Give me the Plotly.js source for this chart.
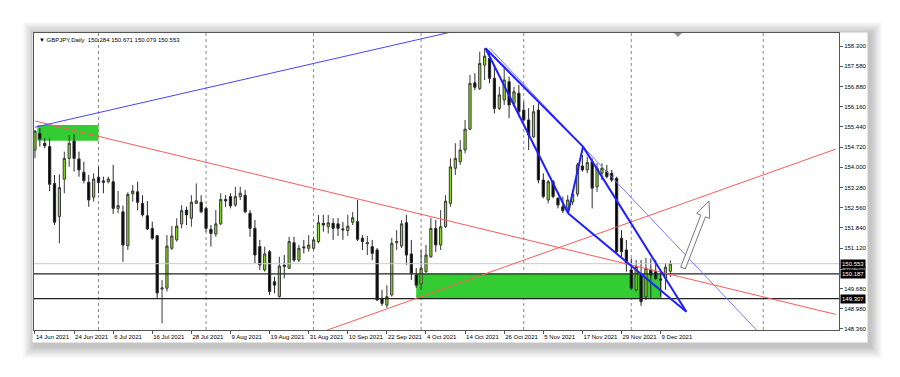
<!DOCTYPE html>
<html>
<head>
<meta charset="utf-8">
<script src="https://cdn.plot.ly/plotly-3.0.1.min.js"></script>
<style>html,body{margin:0;padding:0;background:#fff;}#chart{width:900px;height:377px;}</style>
</head>
<body>
<div id="chart"></div>
<script>
// ---- DATA (GBPJPY daily bars, index 0 = 14 Jun 2021) ----
const opens = [154.60,155.19,154.84,154.72,153.41,152.23,153.56,154.30,154.92,154.28,
153.81,153.45,152.92,153.63,153.50,153.47,153.47,152.52,152.40,151.19,
153.04,153.11,152.70,152.26,151.81,151.55,149.65,149.68,151.10,151.40,
151.97,152.46,152.17,152.70,152.74,152.52,151.78,151.61,151.97,152.84,
152.94,152.64,152.94,152.99,152.35,151.81,151.16,150.33,150.98,149.91,
149.38,150.50,150.39,151.30,150.68,151.15,151.10,151.10,151.34,151.99,
151.87,151.99,151.97,151.79,151.73,152.03,152.05,151.46,151.26,151.16,
151.04,149.32,149.08,149.44,151.30,151.18,152.01,150.90,150.15,149.83,
150.27,150.80,151.81,151.22,151.87,152.70,153.95,154.18,154.60,155.34,
156.99,156.79,157.62,157.86,157.15,156.08,156.38,157.03,156.26,156.62,
156.02,155.67,155.07,156.02,153.53,152.82,153.47,152.88,152.58,152.53,
152.75,153.03,154.03,153.89,154.18,153.29,153.77,153.83,153.77,153.59,
151.46,151.04,150.33,149.62,150.15,149.37,150.33,150.27,150.01,150.04,
150.284];
const highs = [155.31,155.38,155.02,155.02,153.71,153.73,154.54,155.13,155.16,154.54,
154.18,153.71,153.77,154.00,153.65,153.65,154.07,153.14,152.62,153.09,
153.35,153.47,152.99,152.78,152.05,151.57,149.97,151.57,151.89,152.17,
152.64,152.58,152.99,153.41,152.99,152.58,151.93,152.46,153.06,152.99,
153.06,153.29,153.29,153.18,152.46,152.11,151.40,151.16,151.04,150.09,
150.80,150.86,151.51,151.51,151.22,151.40,151.57,151.51,152.29,152.29,
152.29,152.17,152.18,152.04,152.29,152.39,152.82,151.57,151.54,151.40,
151.11,149.62,149.79,151.47,151.75,152.11,152.29,151.40,150.40,151.04,
151.22,152.18,152.11,152.46,152.99,154.30,154.84,154.95,155.67,157.27,
157.33,158.10,158.22,158.04,157.56,156.85,157.56,157.21,156.85,156.91,
156.32,156.09,156.20,156.26,153.77,153.53,153.53,152.92,152.94,152.99,
153.18,154.14,154.42,154.36,154.30,154.13,154.13,154.07,153.89,153.65,
151.75,151.40,150.74,150.68,150.68,150.76,150.74,150.68,150.27,150.58,
150.671];
const lows = [154.31,154.72,154.66,153.14,151.93,151.28,153.06,154.00,153.83,153.65,
153.41,152.58,152.76,153.06,153.06,153.41,152.32,152.35,150.62,151.04,
152.76,152.46,152.23,151.75,151.40,149.30,148.43,149.56,151.04,151.34,
151.81,151.93,151.87,152.68,152.35,151.69,151.16,151.51,151.93,152.58,
152.52,152.58,152.82,152.35,151.51,150.57,150.33,150.27,149.44,149.50,
149.35,150.03,150.36,150.62,150.61,150.92,150.98,151.04,151.28,151.69,
151.63,151.40,151.54,151.40,151.54,151.93,151.36,151.04,150.86,150.68,
149.23,149.05,148.98,149.38,151.04,151.11,150.51,149.97,149.69,149.62,
150.22,150.76,150.97,151.04,151.82,152.58,153.71,154.07,154.48,155.31,
156.73,156.73,157.09,156.97,155.90,156.02,156.20,155.73,156.20,155.78,
155.60,154.60,155.02,153.41,152.88,152.70,152.88,152.52,152.35,152.40,
152.64,152.94,153.83,153.77,152.52,153.11,153.53,153.59,153.47,150.92,
150.80,150.27,149.62,149.56,149.05,149.26,149.33,149.97,149.38,149.62,
150.079];
const closes = [155.27,154.99,154.75,153.38,152.03,153.26,154.30,154.84,154.30,153.89,
153.51,152.82,153.57,153.44,153.45,153.57,152.52,152.62,151.22,153.02,
153.14,152.74,152.29,151.79,151.46,149.51,149.69,151.18,151.54,151.89,
152.44,152.29,152.74,152.79,152.40,151.81,151.63,151.97,152.84,152.79,
152.61,152.94,153.06,152.40,151.81,150.86,150.51,150.90,149.56,149.79,
150.47,150.46,151.34,150.68,151.10,151.12,151.22,151.40,152.01,151.93,
152.01,151.81,151.81,151.76,151.89,152.19,151.42,151.34,151.30,150.92,
149.26,149.14,149.38,151.28,151.34,151.97,150.86,150.21,149.79,150.39,
150.86,151.81,151.22,151.87,152.78,154.00,154.30,154.60,155.34,156.97,
156.83,157.68,157.94,157.15,156.08,156.56,157.09,156.20,156.67,155.96,
155.67,155.13,155.96,153.53,152.94,153.47,152.94,152.64,152.44,152.82,
153.03,154.07,153.89,154.15,153.24,153.95,153.95,153.65,153.53,150.98,
150.98,150.54,149.68,150.45,149.20,150.39,150.15,150.03,149.97,150.43,
150.553];

// date tick labels (every 8 bars)
const dateLabels = ["14 Jun 2021","24 Jun 2021","6 Jul 2021","16 Jul 2021","28 Jul 2021","9 Aug 2021",
"19 Aug 2021","31 Aug 2021","10 Sep 2021","22 Sep 2021","4 Oct 2021","14 Oct 2021","26 Oct 2021",
"5 Nov 2021","17 Nov 2021","29 Nov 2021","9 Dec 2021"];
// price scale labels (top to bottom)
const priceLabels = ["158.300","157.580","156.880","156.160","155.440","154.720","154.000","153.280",
"152.560","151.840","151.120","150.400","149.680","148.980","148.360"];

// horizontal levels
const levelPrices = [150.187, 149.307];
const bidPrice = 150.553;
const titleText = "GBPJPY,Daily  150.284 150.671 150.079 150.553";

// zones [bar0, bar1, priceLow, priceHigh]
const zoneTop = [0.5, 13.0, 154.93, 155.49];
const zoneMain = [78.0, 128.2, 149.307, 150.187];

// trend lines: [bar0, price0, bar1, price1]
const redDown = [0, 155.63, 163.8, 148.75];
const redUp = [59.3, 148.16, 163.8, 154.63];
const blueLong = [0, 155.41, 100, 159.39];
const wedgeThick = [
  [92.17, 158.22, 109.06, 152.35],
  [92.17, 158.22, 112.13, 154.72],
  [109.06, 152.35, 112.13, 154.72],
  [112.13, 154.72, 133.27, 148.84],
  [109.06, 152.35, 133.27, 148.84]
];
const wedgeThin = [93.05, 158.22, 147.65, 148.19];

// ---- BUILD ----
const idx = closes.map((_, i) => i);
const trace = {
  type: 'candlestick', x: idx, open: opens, high: highs, low: lows, close: closes,
  increasing: {line: {color: '#3a3a3a', width: 1}, fillcolor: '#86e01e'},
  decreasing: {line: {color: '#2a2a2a', width: 1}, fillcolor: '#000000'},
  whiskerwidth: 0, hoverinfo: 'skip', showlegend: false
};

// pixel -> paper helpers (plot area x 34..839, y 33..330)
const L = 34, R = 839, T = 33, B = 330;
const px = x => (x - L) / (R - L);
const py = y => (B - y) / (B - T);

const shapes = [];
// drop shadow + card
for (let k = 12; k >= 1; k--) {
  shapes.push({type: 'rect', xref: 'paper', yref: 'paper', layer: 'below',
    x0: px(33 - k + 2), x1: px(868 + k + 2), y0: py(343 + k + 3), y1: py(33 - k + 1),
    fillcolor: 'rgba(0,0,0,0.018)', line: {width: 0}});
}
shapes.push({type: 'rect', xref: 'paper', yref: 'paper', layer: 'below',
  x0: px(32), x1: px(868), y0: py(343), y1: py(32), fillcolor: '#ffffff',
  line: {color: '#c4c4c4', width: 1}});

// month grid (dotted verticals)
[13, 35, 57, 79, 100, 122, 149].forEach(g => shapes.push({type: 'line', xref: 'x', yref: 'paper',
  x0: g, x1: g, y0: 0, y1: 1, layer: 'below', line: {color: '#8a8a8a', width: 1, dash: 'dot'}}));

// zones
const zone = z => ({type: 'rect', xref: 'x', yref: 'y', layer: 'below', x0: z[0], x1: z[1], y0: z[2], y1: z[3],
  fillcolor: '#33cc33', line: {width: 0}});
shapes.push(zone(zoneTop));
shapes.push(zone(zoneMain));

// bid line
shapes.push({type: 'line', xref: 'paper', yref: 'y', x0: 0, x1: 1, y0: bidPrice, y1: bidPrice,
  line: {color: '#c3cbd3', width: 1}});
// levels
levelPrices.forEach(p => shapes.push({type: 'line', xref: 'paper', yref: 'y', x0: 0, x1: 1, y0: p, y1: p,
  line: {color: '#222', width: 1.2}}));

const seg = (s, color, width) => ({type: 'line', xref: 'x', yref: 'y', x0: s[0], y0: s[1], x1: s[2], y1: s[3],
  line: {color: color, width: width}});
shapes.push(seg(redDown, '#ff5a5a', 1));
shapes.push(seg(redUp, '#ff5a5a', 1));
shapes.push(seg(blueLong, '#4646ff', 1));
shapes.push(seg(wedgeThin, '#7a7aff', 1));
wedgeThick.forEach(s => shapes.push(seg(s, '#1f1fff', 2)));

// arrow (drawn annotation)
const arrowPts = [[680.7,267.1],[700.9,215.0],[696.7,213.4],[709,201],[709.7,218.4],[705.5,216.8],[685.3,268.9]];
let d = arrowPts.map((p, i) => (i ? 'L' : 'M') + px(p[0]).toFixed(5) + ',' + py(p[1]).toFixed(5)).join(' ') + ' Z';
shapes.push({type: 'path', xref: 'paper', yref: 'paper', path: d, fillcolor: '#ffffff',
  line: {color: '#7a7a7a', width: 1}});
// chart shift marker
shapes.push({type: 'path', xref: 'paper', yref: 'paper',
  path: `M${px(674)},${py(33)} L${px(682)},${py(33)} L${px(678)},${py(37)} Z`,
  fillcolor: '#909090', line: {width: 0}});

const font = {family: 'Liberation Sans, Arial, sans-serif', size: 6, color: '#000'};
const annotations = [];
annotations.push({xref: 'paper', yref: 'paper', x: px(37), y: py(40), xanchor: 'left', yanchor: 'middle',
  text: '▼ ' + titleText, showarrow: false, font: font});
[bidPrice].concat(levelPrices).forEach(p => annotations.push({xref: 'paper', yref: 'y', x: 1, y: p,
  xanchor: 'left', yanchor: 'middle', xshift: 1, text: p.toFixed(3), showarrow: false,
  bgcolor: '#000', borderpad: 1, font: {family: font.family, size: 6, color: '#fff'}}));

const tickStep = 20.2 / 28.1;
const yTickVals = priceLabels.map((_, k) => 158.3 - k * tickStep);

const layout = {
  width: 900, height: 377,
  margin: {l: L, r: 900 - R, t: T, b: 377 - B, pad: 0},
  paper_bgcolor: '#ffffff', plot_bgcolor: '#ffffff',
  showlegend: false, boxgap: 0.35,
  font: font,
  xaxis: {
    range: [-0.2, 164.5], rangeslider: {visible: false}, showgrid: false, zeroline: false,
    showline: true, linecolor: '#555', linewidth: 1, mirror: true,
    tickmode: 'array', tickvals: dateLabels.map((_, k) => k * 8), ticktext: dateLabels,
    ticks: 'outside', ticklen: 3, tickcolor: '#555', ticklabelposition: 'outside right',
    tickangle: 0, ticklabelstandoff: 1,
    tickfont: font, fixedrange: true
  },
  yaxis: {
    range: [148.193, 158.763], side: 'right', showgrid: false, zeroline: false,
    showline: true, linecolor: '#555', linewidth: 1, mirror: true,
    tickmode: 'array', tickvals: yTickVals, ticktext: priceLabels,
    ticks: 'outside', ticklen: 3, tickcolor: '#555', tickfont: font, fixedrange: true
  },
  shapes: shapes, annotations: annotations
};

Plotly.newPlot('chart', [trace], layout, {staticPlot: true, displayModeBar: false});
</script>
</body>
</html>
